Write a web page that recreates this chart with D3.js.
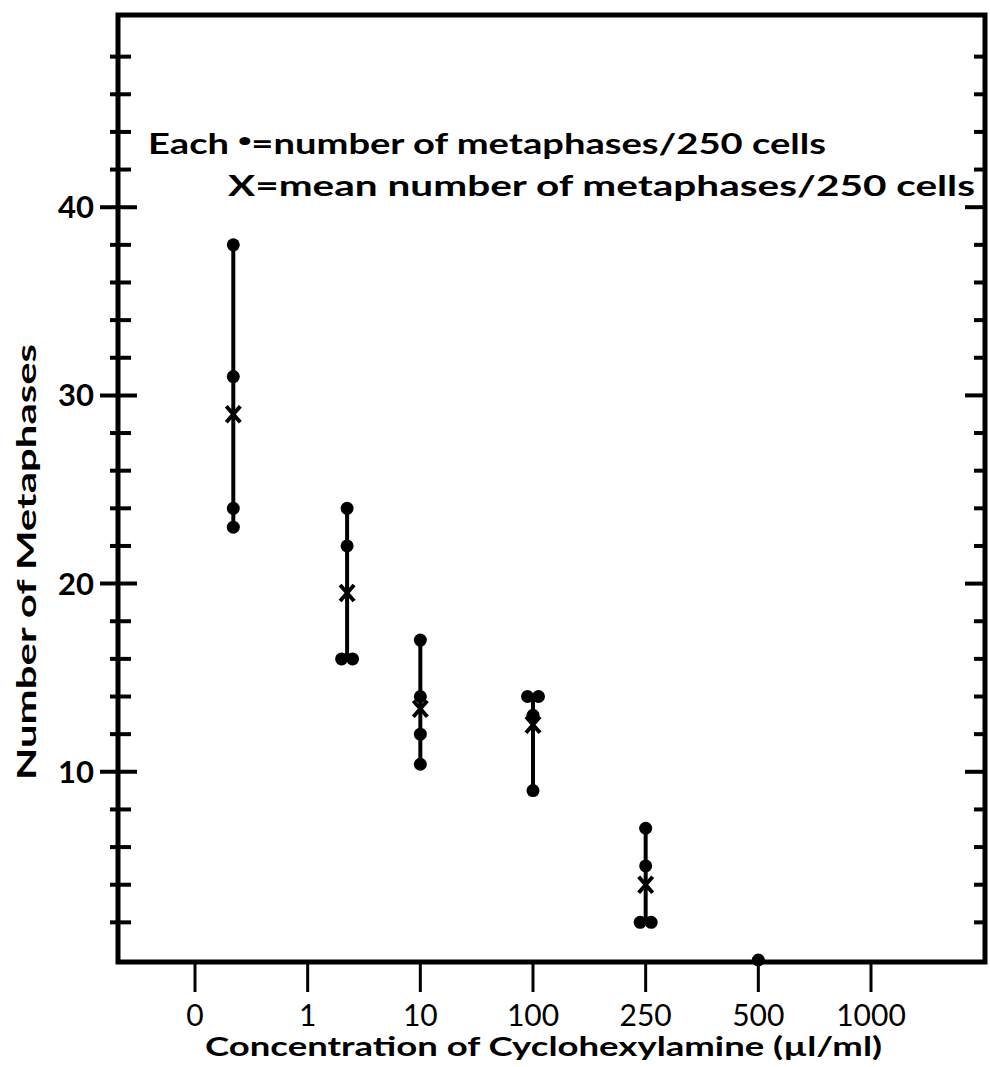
<!DOCTYPE html>
<html>
<head>
<meta charset="utf-8">
<script src="https://cdn.jsdelivr.net/npm/d3@7"></script>
<style>
  body { margin: 0; background: #fff; }
  svg { display: block; }
  text { font-family: Lato, "DejaVu Sans", sans-serif; fill: #000; }
</style>
</head>
<body>
<svg width="990" height="1067"></svg>
<script>
const svg = d3.select('svg');

// concentration categories on the x axis (ul/ml)
var xLabels = ["0", "1", "10", "100", "250", "500", "1000"];
// where each group sits, in category-index units (first two are drawn off-tick in the original)
var groupPos = [0.34, 1.35, 2, 3, 4, 5];
// metaphases per 250 cells, one array per group
var groupValues = [
    [38, 31, 24, 23],
    [24, 22, 16, 16],
    [17, 14, 12, 10.4],
    [14, 14, 13, 9],
    [7, 5, 2, 2],
    [0]
];
// y tick labels
var yMajor = [10, 20, 30, 40];

//globals
var frameL = 118, frameR = 985, frameT = 15, frameB = 962;

var x = d3.scaleLinear().domain([0, 6]).range([195, 871]);
var y = d3.scaleLinear().domain([0, 50]).range([960, 19]);

var minorTicks = d3.range(2, 50, 2);

// frame
svg.append("rect")
    .attr("x", frameL).attr("y", frameT)
    .attr("width", frameR - frameL).attr("height", frameB - frameT)
    .attr("fill", "none").attr("stroke", "#000").attr("stroke-width", 5);

// left ticks, crossing the axis
svg.append("g").selectAll("line")
    .data(minorTicks)
    .enter().append("line")
    .attr("x1", d => d % 10 == 0 ? frameL - 18 : frameL - 8)
    .attr("x2", d => d % 10 == 0 ? frameL + 19 : frameL + 13)
    .attr("y1", d => y(d)).attr("y2", d => y(d))
    .attr("stroke", "#000").attr("stroke-width", 4);

// right ticks, pointing inward
svg.append("g").selectAll("line")
    .data(minorTicks)
    .enter().append("line")
    .attr("x1", d => d % 10 == 0 ? frameR - 20 : frameR - 11)
    .attr("x2", frameR)
    .attr("y1", d => y(d)).attr("y2", d => y(d))
    .attr("stroke", "#000").attr("stroke-width", 4);

// y labels
svg.append("g").selectAll("text")
    .data(yMajor)
    .enter().append("text")
    .attr("x", 94)
    .attr("y", d => y(d) + 11)
    .attr("text-anchor", "end")
    .attr("font-size", 31)
    .style("font-weight", 700)
    .text(d => d);

// x ticks below axis
svg.append("g").selectAll("line")
    .data(xLabels)
    .enter().append("line")
    .attr("x1", (d, i) => x(i)).attr("x2", (d, i) => x(i))
    .attr("y1", frameB).attr("y2", frameB + 30)
    .attr("stroke", "#000").attr("stroke-width", 3);

svg.append("g").selectAll("text")
    .data(xLabels)
    .enter().append("text")
    .attr("x", (d, i) => x(i))
    .attr("y", 1026)
    .attr("text-anchor", "middle")
    .attr("font-size", 30)
    .style("font-weight", 400)
    .text(d => d);

// axis titles
svg.append("text")
    .attr("x", 205).attr("y", 1056)
    .attr("font-size", 27)
    .style("font-weight", 700)
    .attr("textLength", 677).attr("lengthAdjust", "spacingAndGlyphs")
    .text("Concentration of Cyclohexylamine (\u00b5l/ml)");

svg.append("text")
    .attr("transform", "translate(36,780) rotate(-90)")
    .attr("font-size", 27)
    .style("font-weight", 700)
    .attr("textLength", 436).attr("lengthAdjust", "spacingAndGlyphs")
    .text("Number of Metaphases");

// legend
var leg1 = svg.append("text")
    .attr("x", 148).attr("y", 154)
    .attr("font-size", 28)
    .style("font-weight", 700)
    .attr("textLength", 678).attr("lengthAdjust", "spacingAndGlyphs");
leg1.append("tspan").text("Each ");
leg1.append("tspan").attr("dy", -8).attr("font-size", 16).text("\u25CF");
leg1.append("tspan").attr("dy", 8).text("=number of metaphases/250 cells");

svg.append("text")
    .attr("x", 228).attr("y", 196)
    .attr("font-size", 28)
    .style("font-weight", 700)
    .attr("textLength", 747).attr("lengthAdjust", "spacingAndGlyphs")
    .text("X=mean number of metaphases/250 cells");

// groups
var groups = svg.append("g").selectAll("g")
    .data(groupValues)
    .enter().append("g");

groups.append("line")
    .attr("x1", (d, i) => x(groupPos[i])).attr("x2", (d, i) => x(groupPos[i]))
    .attr("y1", d => y(d3.max(d))).attr("y2", d => y(d3.min(d)))
    .attr("stroke", "#000").attr("stroke-width", 4);

// dots, duplicates spread sideways
groups.each(function(vals, i) {
    var pts = vals.map(function(v, k) {
        var n = vals.filter(w => w == v).length;
        var idx = vals.slice(0, k).filter(w => w == v).length;
        return {v: v, off: (idx - (n - 1) / 2) * 11};
    });
    d3.select(this).selectAll("circle")
        .data(pts)
        .enter().append("circle")
        .attr("cx", d => x(groupPos[i]) + d.off)
        .attr("cy", d => y(d.v))
        .attr("r", 6.5)
        .attr("fill", "#000");

    // mean marker
    if (vals.length > 1) {
        var cx = x(groupPos[i]), cy = y(d3.mean(vals)), s = 7;
        d3.select(this).append("path")
            .attr("d", `M${cx - s},${cy - s - 1}L${cx + s},${cy + s + 1}M${cx + s},${cy - s - 1}L${cx - s},${cy + s + 1}`)
            .attr("stroke", "#000").attr("stroke-width", 4);
    }
});
</script>
</body>
</html>
